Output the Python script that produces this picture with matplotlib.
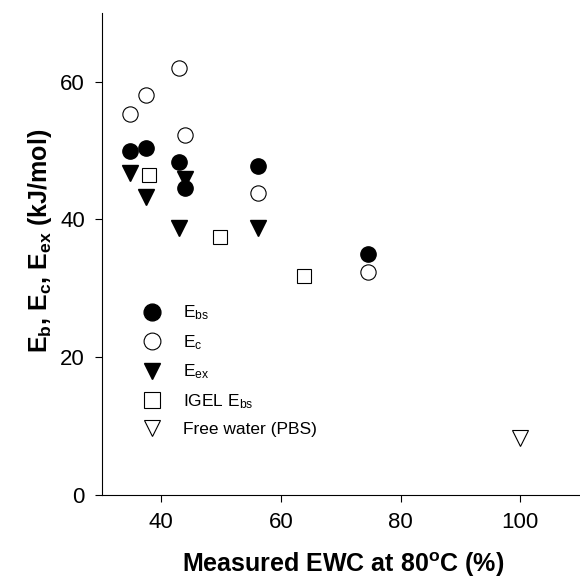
import matplotlib
matplotlib.use("Agg")
from matplotlib import pyplot as plt

plt.rcParams['font.family'] = ['Liberation Sans', 'DejaVu Sans']
plt.rcParams['mathtext.default'] = 'regular'

# data
ebs_x = [34.8, 37.5, 43.0, 44.0, 56.2, 74.5]
ebs_y = [50.0, 50.4, 48.4, 44.5, 47.8, 35.0]

ec_x = [34.8, 37.4, 43.0, 44.0, 56.2, 74.5]
ec_y = [55.3, 58.0, 62.0, 52.3, 43.9, 32.4]

eex_x = [34.8, 37.4, 44.0, 43.0, 56.2]
eex_y = [46.8, 43.3, 45.9, 38.8, 38.7]

igel_x = [38.0, 49.8, 63.8]
igel_y = [46.5, 37.5, 31.8]

free_x = [100.0]
free_y = [8.2]

fig = plt.figure(figsize=(5.8, 5.83), dpi=100)
ax = fig.add_axes([0.175, 0.151, 0.825, 0.827])

ms = 11
ax.plot(ebs_x, ebs_y, 'o', color='black', ms=ms, label=r'$E_{bs}$', zorder=3)
ax.plot(ec_x, ec_y, 'o', mfc='white', mec='black', mew=0.8, ms=ms, label=r'$E_c$', zorder=2)
ax.plot(eex_x, eex_y, 'v', color='black', ms=ms, label=r'$E_{ex}$', zorder=2)
ax.plot(igel_x, igel_y, 's', mfc='white', mec='black', mew=0.8, ms=10, label=r'IGEL $E_{bs}$', zorder=2)
ax.plot(free_x, free_y, 'v', mfc='white', mec='black', mew=0.8, ms=ms, label='Free water (PBS)', zorder=2)

ax.set_xlim(30, 110)
ax.set_ylim(0, 70)
ax.set_xticks([40, 60, 80, 100])
ax.set_yticks([0, 20, 40, 60])
ax.tick_params(labelsize=16, direction='out', length=5, width=0.8)
ax.tick_params(axis='x', pad=7)
ax.tick_params(axis='y', pad=7)

ax.spines['top'].set_visible(False)
ax.spines['right'].set_visible(False)

ax.set_xlabel(r'Measured EWC at 80$^o$C (%)', fontsize=18, fontweight='bold')
ax.set_ylabel(r'$E_b$, $E_c$, $E_{ex}$ (kJ/mol)', fontsize=18, fontweight='bold')
ax.xaxis.set_label_coords(0.504, -0.114)
ax.yaxis.set_label_coords(-0.10, 0.527)

ax.legend(loc='upper left', bbox_to_anchor=(0.054, 0.411), frameon=False, fontsize=12.5,
          handletextpad=0.78, labelspacing=0.62, borderaxespad=0, markerscale=1.1)

fig.savefig('out.png', dpi=100)
